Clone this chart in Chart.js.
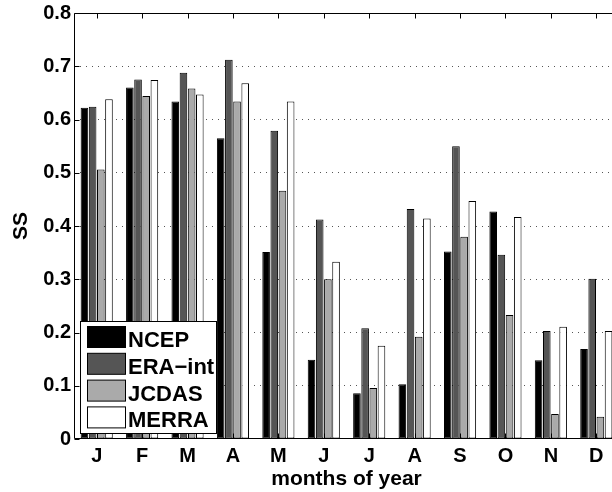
<!DOCTYPE html>
<html lang="en">
<head>
    <meta charset="UTF-8">
    <title>SS by month</title>
    <script src="https://cdn.jsdelivr.net/npm/chart.js"></script>
    <style>
        html, body { margin: 0; padding: 0; background: #fff; overflow: hidden; }
        #wrap { width: 622px; height: 492px; }
    </style>
</head>
<body>
    <div id="wrap"><canvas id="ssChart"></canvas></div>

    <script>
        // monthly SS for each reanalysis
        const months = ['J', 'F', 'M', 'A', 'M', 'J', 'J', 'A', 'S', 'O', 'N', 'D'];
        const ncep   = [0.622, 0.660, 0.634, 0.565, 0.351, 0.149, 0.086, 0.103, 0.352, 0.427, 0.148, 0.169];
        const eraInt = [0.624, 0.675, 0.688, 0.712, 0.579, 0.412, 0.208, 0.432, 0.550, 0.346, 0.203, 0.301];
        const jcdas  = [0.506, 0.644, 0.658, 0.634, 0.466, 0.300, 0.096, 0.192, 0.380, 0.233, 0.047, 0.042];
        const merra  = [0.638, 0.674, 0.647, 0.668, 0.634, 0.333, 0.175, 0.414, 0.447, 0.417, 0.211, 0.203];
        const yTicks = [0, 0.1, 0.2, 0.3, 0.4, 0.5, 0.6, 0.7, 0.8];

        const FONT = '"Liberation Sans", Arial, Helvetica, sans-serif';
        Chart.defaults.font.family = FONT;
        Chart.defaults.color = '#000';

        function bars(label, data, fill) {
            return {
                label: label,
                data: data,
                backgroundColor: fill,
                borderColor: '#000',
                borderWidth: 1,
                borderSkipped: false,
                categoryPercentage: 0.72,
                barPercentage: 0.93
            };
        }

        // box around the axes, inward tick marks, legend in the lower left
        const framePlugin = {
            id: 'frame',
            afterDatasetsDraw(chart) {
                const ctx = chart.ctx;
                const a = chart.chartArea;
                const xs = chart.scales.x, ys = chart.scales.y;
                const L = Math.round(a.left) + 0.5, R = Math.round(a.right) + 0.5;
                const T = Math.round(a.top) + 0.5, B = Math.round(a.bottom) - 0.5;
                ctx.save();
                ctx.strokeStyle = '#000';
                ctx.lineWidth = 1;
                ctx.beginPath();
                ctx.rect(L, T, R - L, B - T);
                for (let i = 0; i < months.length; i++) {
                    const px = Math.round(xs.getPixelForValue(i)) + 0.5;
                    ctx.moveTo(px, T); ctx.lineTo(px, T + 5);
                    ctx.moveTo(px, B); ctx.lineTo(px, B - 5);
                }
                yTicks.forEach(v => {
                    const py = Math.round(ys.getPixelForValue(v)) + 0.5;
                    ctx.moveTo(L, py); ctx.lineTo(L + 5, py);
                    ctx.moveTo(R, py); ctx.lineTo(R - 5, py);
                });
                ctx.stroke();

                // legend
                const lx = 80.5, ly = 321.5, lw = 136, lh = 112;
                ctx.fillStyle = '#fff';
                ctx.fillRect(lx, ly, lw, lh);
                ctx.strokeRect(lx, ly, lw, lh);
                ctx.font = 'bold 22px ' + FONT;
                ctx.textBaseline = 'alphabetic';
                ctx.textAlign = 'left';
                chart.data.datasets.forEach((ds, i) => {
                    const sy = 326.5 + i * 26.8;
                    ctx.fillStyle = ds.backgroundColor;
                    ctx.fillRect(87.5, sy, 38, 21);
                    ctx.strokeStyle = '#000';
                    ctx.strokeRect(87.5, sy, 38, 21);
                    ctx.fillStyle = '#000';
                    ctx.fillText(ds.label, 128, sy + 20.5);
                });
                ctx.restore();
            }
        };

        new Chart(document.getElementById('ssChart'), {
            type: 'bar',
            data: {
                labels: months,
                datasets: [
                    bars('NCEP', ncep, '#000000'),
                    bars('ERA\u2212int', eraInt, '#555555'),
                    bars('JCDAS', jcdas, '#aaaaaa'),
                    bars('MERRA', merra, '#ffffff')
                ]
            },
            options: {
                responsive: true,
                maintainAspectRatio: false,
                animation: false,
                layout: { padding: { top: 10, right: 3, bottom: 0, left: 0 } },
                plugins: {
                    legend: { display: false },
                    tooltip: { enabled: false }
                },
                scales: {
                    x: {
                        offset: true,
                        grid: { display: false, drawTicks: false },
                        border: { display: false },
                        ticks: {
                            padding: 7,
                            font: { size: 20, weight: 'bold', lineHeight: 1 }
                        },
                        title: {
                            display: true,
                            text: 'months of year',
                            font: { size: 21, weight: 'bold', lineHeight: 1.2 },
                            padding: { top: 0, bottom: 0 }
                        },
                        afterFit(scale) { scale.height = 53; }
                    },
                    y: {
                        min: 0,
                        max: 0.8,
                        afterBuildTicks(scale) {
                            scale.ticks = yTicks.map(v => ({ value: v }));
                        },
                        grid: {
                            drawTicks: false,
                            color: c => (c.tick && c.tick.value > 0.001 && c.tick.value < 0.799) ? '#555' : 'rgba(0,0,0,0)',
                            lineWidth: 1
                        },
                        border: { display: false, dash: [1, 5] },
                        ticks: {
                            padding: 3,
                            font: { size: 20, weight: 'bold', lineHeight: 1 },
                            callback: v => v === 0 ? '0' : Number(v).toFixed(1)
                        },
                        title: {
                            display: true,
                            text: 'SS',
                            font: { size: 21, weight: 'bold', lineHeight: 1.2 },
                            padding: { top: 9, bottom: 0 }
                        },
                        afterFit(scale) { scale.width = 74; }
                    }
                }
            },
            plugins: [framePlugin]
        });
    </script>
</body>
</html>
